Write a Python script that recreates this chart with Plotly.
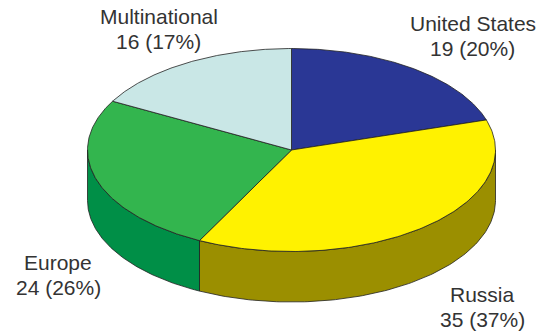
import numpy as np
import plotly.graph_objects as go

categories = ["United States", "Russia", "Europe", "Multinational"]
values = [19, 35, 24, 16]
percents = [20, 37, 26, 17]
top_colors = ["#2a3795", "#fff200", "#33b54e", "#c9e7e6"]
side_colors = ["#1c2566", "#9b8f00", "#008f47", "#8fb0ae"]

W, H = 540, 332
CX, CY, RX, RY, DEPTH = 291.5, 150, 204, 101.5, 50.5
LINE = dict(color="#222222", width=0.8)

fractions = np.array(values) / sum(values)
edges = np.concatenate([[0], np.cumsum(fractions)]) * 2 * np.pi


def pt(a, drop=0):
    return CX + RX * np.sin(a), CY - RY * np.cos(a) + drop


fig = go.Figure()


def poly(x, y, color):
    fig.add_trace(go.Scatter(x=list(x), y=list(y), mode="lines", fill="toself",
                             fillcolor=color, line=LINE, hoverinfo="skip",
                             showlegend=False))


# side wall: only the front half of the ellipse (90 to 270 degrees) is visible
for i in range(len(values)):
    a0, a1 = max(edges[i], np.pi / 2), min(edges[i + 1], 3 * np.pi / 2)
    if a1 <= a0:
        continue
    t = np.linspace(a0, a1, 120)
    xt, yt = pt(t)
    xb, yb = pt(t[::-1], DEPTH)
    poly(np.r_[xt, xb, xt[0]], np.r_[yt, yb, yt[0]], side_colors[i])

# top faces
for i in range(len(values)):
    t = np.linspace(edges[i], edges[i + 1], 160)
    x, y = pt(t)
    poly(np.r_[CX, x, CX], np.r_[CY, y, CY], top_colors[i])

label_xy = [(472.5, 23), (482, 294), (58, 262), (158.5, 16)]
LINE_GAP = 25.5
FONT = dict(family="Liberation Sans, Arial, sans-serif", size=21, color="#333333")
annotations = []
for (lx, ly), c, v, p in zip(label_xy, categories, values, percents):
    for dy, txt in ((0, c), (LINE_GAP, f"{v} ({p}%)")):
        annotations.append(dict(x=lx, y=ly + dy, text=txt, showarrow=False,
                                xanchor="center", yanchor="middle", font=FONT))

fig.update_layout(
    width=W, height=H, margin=dict(l=0, r=0, t=0, b=0),
    paper_bgcolor="white", plot_bgcolor="white", annotations=annotations,
    xaxis=dict(range=[0, W], visible=False, fixedrange=True),
    yaxis=dict(range=[H, 0], visible=False, fixedrange=True),
)
fig.write_html("out.html", config=dict(displayModeBar=False),
               post_script="document.body.style.margin='0';document.documentElement.style.overflow='hidden';")
